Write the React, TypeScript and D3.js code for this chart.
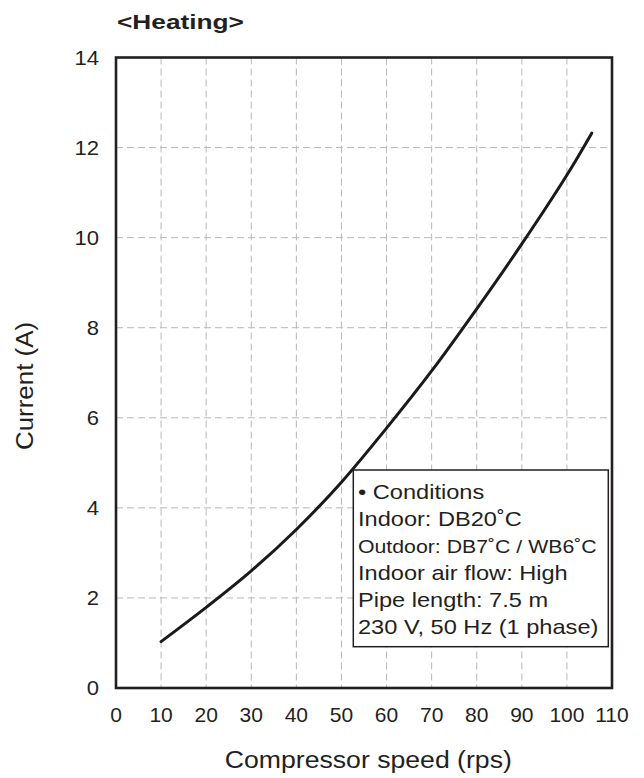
import React from "react";
import * as d3 from "d3";

const speeds = [10, 20, 30, 40, 50, 60, 70, 80, 90, 100, 105.5];
const currents = [1.03, 1.79, 2.6, 3.52, 4.57, 5.77, 7.04, 8.42, 9.86, 11.39, 12.32];
const xTicks = [0, 10, 20, 30, 40, 50, 60, 70, 80, 90, 100, 110];
const yTicks = [0, 2, 4, 6, 8, 10, 12, 14];
const conditionLines = [
  "• Conditions",
  "Indoor: DB20˚C",
  "Outdoor: DB7˚C / WB6˚C",
  "Indoor air flow: High",
  "Pipe length: 7.5 m",
  "230 V, 50 Hz (1 phase)",
];
const titleText = "<Heating>";
const xTitle = "Compressor speed (rps)";
const yTitle = "Current (A)";

const W = 644;
const H = 778;
const left = 116;
const right = 612;
const top = 57.5;
const bottom = 688;
const FONT = "'Liberation Sans', Arial, Helvetica, sans-serif";
const INK = "#231f20";

export default function App() {
  const x = d3.scaleLinear().domain([0, 110]).range([left, right]);
  const y = d3.scaleLinear().domain([0, 14]).range([bottom, top]);
  const pts: [number, number][] = speeds.map((s, i) => [s, currents[i]]);
  const line = d3
    .line<[number, number]>()
    .x((d) => x(d[0]))
    .y((d) => y(d[1]))
    .curve(d3.curveCatmullRom.alpha(0.5));

  const boxL = 353.3;
  const boxT = 470;
  const boxR = 608.3;
  const boxB = 646.7;

  return (
    <svg
      width={W}
      height={H}
      style={{ position: "absolute", left: 0, top: 0, background: "#fff" }}
      fontFamily={FONT}
    >
      <rect x={0} y={0} width={W} height={H} fill="#fff" />
      {/* grid */}
      {xTicks
        .filter((t) => t > 0 && t < 110)
        .map((t) => (
          <line
            key={"gx" + t}
            x1={x(t)}
            x2={x(t)}
            y1={top}
            y2={bottom}
            stroke="#b8b8b8"
            strokeWidth={1}
            strokeDasharray="7,4"
          />
        ))}
      {yTicks
        .filter((t) => t > 0 && t < 14)
        .map((t) => (
          <line
            key={"gy" + t}
            x1={left}
            x2={right}
            y1={y(t)}
            y2={y(t)}
            stroke="#b8b8b8"
            strokeWidth={1}
            strokeDasharray="7,4"
          />
        ))}
      {/* curve */}
      <path
        d={line(pts) || ""}
        fill="none"
        stroke="#1a1a1a"
        strokeWidth={3}
        strokeLinecap="round"
      />
      {/* conditions box */}
      <rect
        x={boxL}
        y={boxT}
        width={boxR - boxL}
        height={boxB - boxT}
        fill="#fff"
        stroke={INK}
        strokeWidth={1.5}
      />
      {conditionLines.map((t, i) => (
        <text
          key={"c" + i}
          transform={`translate(${358},${499.3 + i * 27}) scale(${i === 2 ? 1.12 : 1.18},1)`}
          fontSize={i === 2 ? 19 : 20}
          fill={INK}
        >
          {t}
        </text>
      ))}
      {/* frame */}
      <rect
        x={left}
        y={top}
        width={right - left}
        height={bottom - top}
        fill="none"
        stroke={INK}
        strokeWidth={2.6}
      />
      {/* x tick labels */}
      {xTicks.map((t) => (
        <text
          key={"xt" + t}
          x={x(t)}
          y={722.3}
          fontSize={21}
          textAnchor="middle"
          fill={INK}
        >
          {t}
        </text>
      ))}
      {/* y tick labels */}
      {yTicks.map((t) => (
        <text
          key={"yt" + t}
          transform={`translate(99,${y(t) + 7.4}) scale(1.05,1)`}
          fontSize={21}
          textAnchor="end"
          fill={INK}
        >
          {t}
        </text>
      ))}
      {/* axis titles */}
      <text
        transform={`translate(368.3,768.3) scale(1.11,1)`}
        fontSize={24}
        textAnchor="middle"
        fill={INK}
      >
        {xTitle}
      </text>
      <text
        transform={`translate(33.3,386) rotate(-90) scale(1.08,1)`}
        fontSize={24}
        textAnchor="middle"
        fill={INK}
      >
        {yTitle}
      </text>
      {/* title */}
      <text
        transform={`translate(117,29.3) scale(1.25,1)`}
        fontSize={21}
        fontWeight="bold"
        fill={INK}
      >
        {titleText}
      </text>
    </svg>
  );
}
